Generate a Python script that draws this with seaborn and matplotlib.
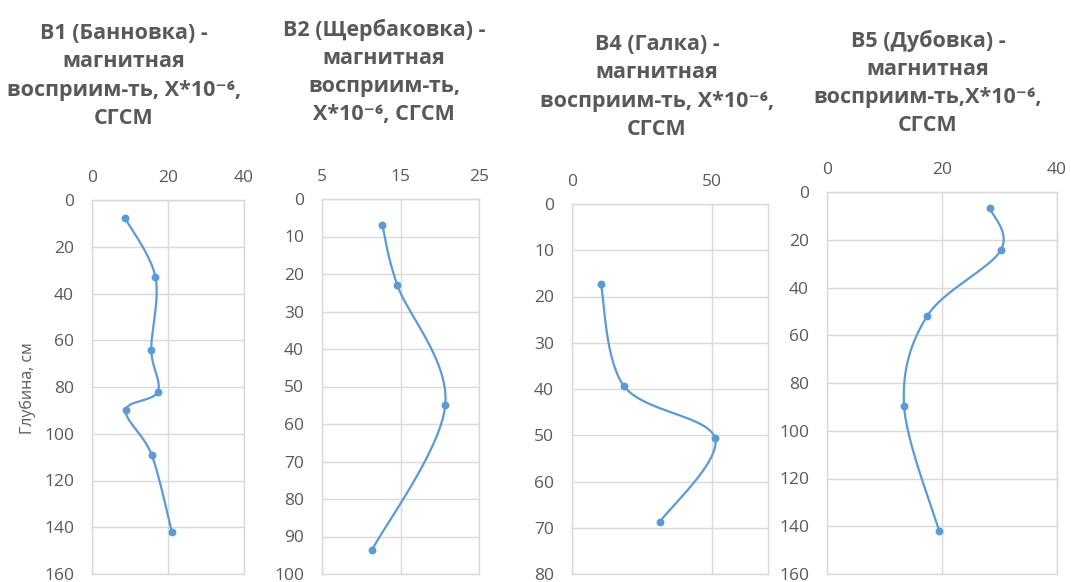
import numpy as np
import matplotlib
matplotlib.use("Agg")
import matplotlib.pyplot as plt
import seaborn as sns

# Magnetic susceptibility profiles, X*10^-6 CGSM, versus depth (cm)
b1_depth = [7.5, 33, 64, 82, 90, 109, 142]
b1_chi = [8.6, 16.7, 15.6, 17.3, 8.9, 15.7, 21.0]

b2_depth = [7, 23, 55, 93.5]
b2_chi = [12.7, 14.6, 20.7, 11.4]

b4_depth = [17.3, 39.4, 50.7, 68.8]
b4_chi = [10.3, 18.6, 51.1, 31.3]

b5_depth = [6.7, 24.5, 52, 89.5, 142]
b5_chi = [28.3, 30.2, 17.4, 13.4, 19.5]

titles = [
    "В1 (Банновка) -\nмагнитная\nвосприим-ть, X*10⁻⁶,\nСГСМ",
    "В2 (Щербаковка) -\nмагнитная\nвосприим-ть,\nX*10⁻⁶, СГСМ",
    "В4 (Галка) -\nмагнитная\nвосприим-ть, X*10⁻⁶,\nСГСМ",
    "В5 (Дубовка) -\nмагнитная\nвосприим-ть,X*10⁻⁶,\nСГСМ",
]
depth_label = "Глубина, см"

sns.set_theme(style="white")
plt.rcParams["font.family"] = ["Open Sans", "DejaVu Sans"]

W, H = 1071, 582
TEXT = "#595959"
GRID = "#D9D9D9"
LINE = "#5B9BD5"

fig = plt.figure(figsize=(W / 100, H / 100), dpi=100)

# panel boxes in pixels: left, right, top, bottom
boxes = [(92, 244, 200, 574), (322, 479, 199, 574),
         (572, 768, 204, 574), (827, 1057, 192, 574)]
title_pos = [(124, 76), (384, 72), (657, 87), (928, 83)]

panels = [
    dict(x=b1_chi, y=b1_depth, xlim=(0, 40), xticks=[0, 20, 40],
         ylim=(160, 0), yticks=np.arange(0, 161, 20)),
    dict(x=b2_chi, y=b2_depth, xlim=(5, 25), xticks=[5, 15, 25],
         ylim=(100, 0), yticks=np.arange(0, 101, 10)),
    dict(x=b4_chi, y=b4_depth, xlim=(0, 70), xticks=[0, 50],
         ylim=(80, 0), yticks=np.arange(0, 81, 10)),
    dict(x=b5_chi, y=b5_depth, xlim=(0, 40), xticks=[0, 20, 40],
         ylim=(160, 0), yticks=np.arange(0, 161, 20)),
]


def smooth_curve(xs, ys, xlim, ylim, wpx, hpx, n=40):
    """Bezier smoothing (Catmull-Rom style) computed in screen space."""
    xs = np.asarray(xs, float)
    ys = np.asarray(ys, float)
    px = (xs - xlim[0]) / (xlim[1] - xlim[0]) * wpx
    py = (ys - ylim[0]) / (ylim[1] - ylim[0]) * hpx
    P = np.column_stack([px, py])
    ext = np.vstack([P[0], P, P[-1]])
    t = np.linspace(0, 1, n)[:, None]
    parts = []
    for i in range(len(P) - 1):
        p0, p1, p2, p3 = ext[i], ext[i + 1], ext[i + 2], ext[i + 3]
        c1 = p1 + (p2 - p0) / 6
        c2 = p2 - (p3 - p1) / 6
        seg = ((1 - t) ** 3) * p1 + 3 * (1 - t) ** 2 * t * c1 \
            + 3 * (1 - t) * t ** 2 * c2 + t ** 3 * p2
        parts.append(seg if i == 0 else seg[1:])
    S = np.vstack(parts)
    sx = S[:, 0] / wpx * (xlim[1] - xlim[0]) + xlim[0]
    sy = S[:, 1] / hpx * (ylim[1] - ylim[0]) + ylim[0]
    return sx, sy


for k, (box, pan) in enumerate(zip(boxes, panels)):
    l, r, t, b = box
    ax = fig.add_axes([l / W, 1 - b / H, (r - l) / W, (b - t) / H])
    ax.set_xlim(*pan["xlim"])
    ax.set_ylim(*pan["ylim"])
    ax.set_xticks(pan["xticks"])
    ax.set_yticks(pan["yticks"])
    ax.xaxis.tick_top()
    ax.tick_params(axis="both", length=0, labelsize=12.5, labelcolor=TEXT)
    ax.tick_params(axis="x", pad=10)
    ax.tick_params(axis="y", pad=13)
    ax.grid(True, color=GRID, linewidth=1)
    for sp in ax.spines.values():
        sp.set_color(GRID)
        sp.set_linewidth(1)

    sx, sy = smooth_curve(pan["x"], pan["y"], pan["xlim"], pan["ylim"],
                          r - l, b - t)
    sns.lineplot(x=sx, y=sy, sort=False, estimator=None, ax=ax,
                 color=LINE, linewidth=1.6)
    sns.scatterplot(x=pan["x"], y=pan["y"], ax=ax, color=LINE, s=32,
                    edgecolor=LINE, linewidth=0, zorder=3)
    ax.set_xlabel("")
    ax.set_ylabel("")

    tx, ty = title_pos[k]
    fig.text(tx / W, 1 - ty / H, titles[k], ha="center", va="center",
             multialignment="center", fontsize=15.5, fontweight="bold",
             color=TEXT, linespacing=1.45)

fig.text(28 / W, 1 - 388 / H, depth_label, rotation=90, ha="center",
         va="center", fontsize=11.5, color=TEXT)

fig.savefig("out.png", dpi=100, facecolor="white")
